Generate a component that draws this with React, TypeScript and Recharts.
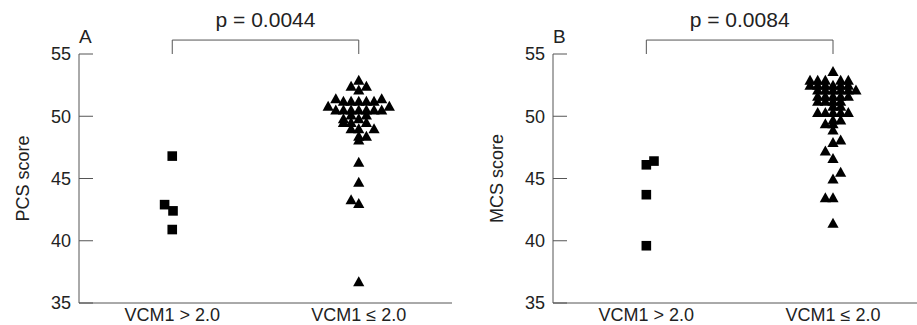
import React from 'react';
import { ScatterChart, Scatter, XAxis, YAxis, ReferenceLine } from 'recharts';

const yTicks = [35, 40, 45, 50, 55];
const groupLabels = ['VCM1 > 2.0', 'VCM1 ≤ 2.0'];

// Panel A – PCS score
const pcsHighValues = [46.8, 42.9, 42.4, 40.9];
const pcsHighJitter = [0, -1, 0.1, 0];
const pcsLowValues = [
  52.9, 52.4, 52.4, 52.1,
  51.4, 51.4, 51.2, 51.2, 51.2, 51.2, 51.2,
  50.8, 50.8, 50.5, 50.5, 50.5, 50.5, 50.5, 50.5, 50.5,
  50.1, 50.1, 49.8, 49.8, 49.5, 49.5, 49.5,
  49.0, 49.0, 49.0, 48.4, 48.4, 48.1,
  46.3, 44.7, 43.3, 43.0, 36.7,
];
const pcsLowJitter = [
  0, -1, 1, 0,
  -3, 3, -2, -1, 0, 1, 2,
  -4, 4, -3, -2, -1, 0, 1, 2, 3,
  -1, 1, -2, 0, -2, -1, 1,
  -1, 0, 2, 0, 1, 0,
  0, 0, -1, 0, 0,
];

// Panel B – MCS score
const mcsHighValues = [46.1, 46.4, 43.7, 39.6];
const mcsHighJitter = [0, 1, 0, 0];
const mcsLowValues = [
  53.6,
  52.9, 52.9, 52.9, 52.9, 52.9,
  52.5, 52.5, 52.5, 52.5, 52.5, 52.5,
  52.1, 52.1, 52.1, 52.1, 52.1, 52.1,
  51.6, 51.6, 51.6, 51.6, 51.6,
  51.2, 51.2, 51.2, 51.2,
  50.8, 50.8,
  50.3, 50.3, 50.3, 50.3, 50.3,
  49.7, 49.7, 49.4, 49.4, 48.9,
  48.1, 47.9, 47.2, 46.6, 45.5, 44.95, 43.45, 43.45, 41.4,
];
const mcsLowJitter = [
  0,
  -3, -2, -1, 1, 2,
  -3, -2, -1, 0, 1, 2,
  -2, -1, 0, 1, 2, 3,
  -2, -1, 0, 1, 2,
  -2, -1, 0, 1,
  0, 1,
  -2, -1, 0, 1, 2,
  0, 1, -1, 0, 0,
  1, 0, -1, 0, 1, 0, -1, 0, 0,
];

const JIT = 0.041;
const BRACKET_TOP = 56.12;
const FONT = '"Liberation Sans", Arial, sans-serif';
const AXIS_COLOR = '#555';
const TEXT_COLOR = '#222';

const build = (values: number[], jitter: number[], group: number) =>
  values.map((v, i) => ({ x: group + jitter[i] * JIT, y: v }));

const Triangle = (p: any) => {
  const { cx, cy } = p;
  return (
    <polygon
      points={`${cx},${cy - 5.5} ${cx - 5.6},${cy + 4.5} ${cx + 5.6},${cy + 4.5}`}
      fill="#000"
    />
  );
};

const Square = (p: any) => {
  const { cx, cy } = p;
  return <rect x={cx - 4.8} y={cy - 4.8} width={9.6} height={9.6} fill="#000" />;
};

// Y tick: label 8px left of the axis, tick line 14px pointing into the plot.
const YTick = (p: any) => {
  const { x, y, payload } = p;
  const axisX = x + 8;
  return (
    <g>
      <line x1={axisX} x2={axisX + 14} y1={y} y2={y} stroke={AXIS_COLOR} strokeWidth={1} />
      <text
        x={x}
        y={y}
        dy="0.355em"
        textAnchor="end"
        fill={TEXT_COLOR}
        style={{ fontSize: 18, fontFamily: FONT }}
      >
        {payload.value}
      </text>
    </g>
  );
};

const boxOf = (p: any) => {
  const vb = p.viewBox || {};
  if (vb.x1 !== undefined) {
    return { x: Math.min(vb.x1, vb.x2), y: Math.min(vb.y1, vb.y2), width: Math.abs(vb.x2 - vb.x1) };
  }
  return { x: vb.x, y: vb.y, width: vb.width || 0 };
};

const pLabel = (text: string) => (p: any) => {
  const b = boxOf(p);
  return (
    <text
      x={b.x + b.width / 2}
      y={b.y - 13}
      textAnchor="middle"
      fill={TEXT_COLOR}
      style={{ fontSize: 21, fontFamily: FONT }}
    >
      {text}
    </text>
  );
};

const letterLabel = (text: string) => (p: any) => {
  const b = boxOf(p);
  return (
    <text x={b.x} y={b.y + 3} textAnchor="start" fill={TEXT_COLOR} style={{ fontSize: 19, fontFamily: FONT }}>
      {text}
    </text>
  );
};

const yAxisLabel = (text: string, cxFromAxis: number) => (p: any) => {
  const vb = p.viewBox || {};
  const cx = vb.x + vb.width - cxFromAxis;
  const cy = vb.y + vb.height / 2;
  return (
    <text
      x={cx}
      y={cy}
      dy="0.355em"
      textAnchor="middle"
      transform={`rotate(-90, ${cx}, ${cy})`}
      fill={TEXT_COLOR}
      style={{ fontSize: 18, fontFamily: FONT }}
    >
      {text}
    </text>
  );
};

type PanelProps = {
  letter: string;
  yLabel: string;
  pText: string;
  high: { x: number; y: number }[];
  low: { x: number; y: number }[];
  yAxisWidth: number;
  marginRight: number;
  xDomain: [number, number];
  left: number;
};

function Panel({ letter, yLabel, pText, high, low, yAxisWidth, marginRight, xDomain, left }: PanelProps) {
  return (
    <div style={{ position: 'absolute', left, top: 0, width: 460, height: 325 }}>
      <ScatterChart
        width={460}
        height={325}
        margin={{ top: 54, right: marginRight, bottom: 0, left: 0 }}
        style={{ fontFamily: FONT }}
      >
        <XAxis
          type="number"
          dataKey="x"
          domain={xDomain}
          ticks={[1, 2]}
          tickFormatter={(v: number) => groupLabels[Math.round(v) - 1]}
          tickLine={false}
          tickSize={0}
          tickMargin={5}
          height={22}
          stroke={AXIS_COLOR}
          tick={{ fill: TEXT_COLOR, fontSize: 18, fontFamily: FONT }}
          allowDataOverflow
        />
        <YAxis
          type="number"
          dataKey="y"
          domain={[35, 55]}
          ticks={yTicks}
          width={yAxisWidth}
          tickLine={false}
          tickSize={-14}
          tickMargin={22}
          stroke={AXIS_COLOR}
          tick={<YTick />}
          label={yAxisLabel(yLabel, 56)}
          allowDataOverflow
        />
        <ReferenceLine segment={[{ x: 1, y: 55 }, { x: 1, y: BRACKET_TOP }]} stroke={AXIS_COLOR} ifOverflow="visible" />
        <ReferenceLine segment={[{ x: 2, y: 55 }, { x: 2, y: BRACKET_TOP }]} stroke={AXIS_COLOR} ifOverflow="visible" />
        <ReferenceLine
          segment={[{ x: 1, y: BRACKET_TOP }, { x: 2, y: BRACKET_TOP }]}
          stroke={AXIS_COLOR}
          ifOverflow="visible"
          label={pLabel(pText)}
        />
        <ReferenceLine
          segment={[{ x: xDomain[0], y: BRACKET_TOP }, { x: xDomain[0], y: BRACKET_TOP }]}
          stroke="none"
          ifOverflow="visible"
          label={letterLabel(letter)}
        />
        <Scatter data={high} shape={Square} isAnimationActive={false} />
        <Scatter data={low} shape={Triangle} isAnimationActive={false} />
      </ScatterChart>
    </div>
  );
}

export default function App() {
  return (
    <div style={{ position: 'absolute', left: 0, top: 0, width: 917, height: 325, background: '#fff', overflow: 'hidden' }}>
      <Panel
        letter="A"
        yLabel="PCS score"
        pText="p = 0.0044"
        high={build(pcsHighValues, pcsHighJitter, 1)}
        low={build(pcsLowValues, pcsLowJitter, 2)}
        yAxisWidth={79}
        marginRight={8}
        xDomain={[0.5, 2.5]}
        left={0}
      />
      <Panel
        letter="B"
        yLabel="MCS score"
        pText="p = 0.0084"
        high={build(mcsHighValues, mcsHighJitter, 1)}
        low={build(mcsLowValues, mcsLowJitter, 2)}
        yAxisWidth={96}
        marginRight={0}
        xDomain={[0.5, 2.45]}
        left={457}
      />
    </div>
  );
}
